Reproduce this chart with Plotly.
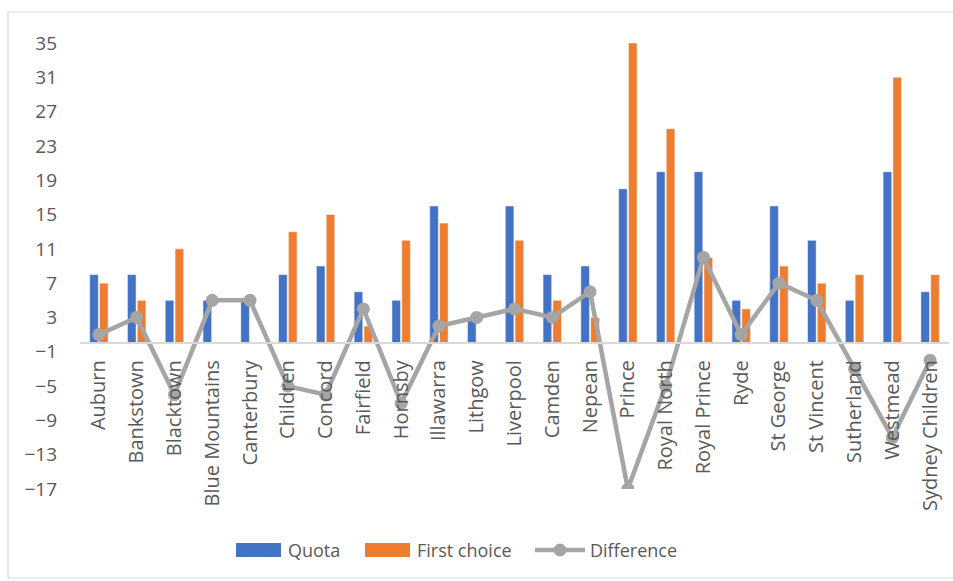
import plotly.graph_objects as go

hospitals = ["Auburn", "Bankstown", "Blacktown", "Blue Mountains", "Canterbury", "Children",
             "Concord", "Fairfield", "Hornsby", "Illawarra", "Lithgow", "Liverpool", "Camden",
             "Nepean", "Prince", "Royal North", "Royal Prince", "Ryde", "St George",
             "St Vincent", "Sutherland", "Westmead", "Sydney Children"]
quota = [8, 8, 5, 5, 5, 8, 9, 6, 5, 16, 3, 16, 8, 9, 18, 20, 20, 5, 16, 12, 5, 20, 6]
first_choice = [7, 5, 11, 0, 0, 13, 15, 2, 12, 14, 0, 12, 5, 3, 35, 25, 10, 4, 9, 7, 8, 31, 8]
difference = [1, 3, -6, 5, 5, -5, -6, 4, -7, 2, 3, 4, 3, 6, -17, -5, 10, 1, 7, 5, -3, -11, -2]
y_ticks = list(range(-17, 36, 4))

BLUE = "#4472C4"
ORANGE = "#ED7D31"
GREY = "#A5A5A5"
TEXT = "#595959"
FONT = "Open Sans"

Y_MIN, Y_MAX = -17, 35

fig = go.Figure()
fig.add_trace(go.Bar(x=hospitals, y=quota, name="Quota",
                     marker=dict(color=BLUE, line=dict(color="white", width=0.5))))
fig.add_trace(go.Bar(x=hospitals, y=first_choice, name="First choice",
                     marker=dict(color=ORANGE, line=dict(color="white", width=0.5))))
fig.add_trace(go.Scatter(x=hospitals, y=difference, name="Difference", mode="lines+markers",
                         line=dict(color=GREY, width=4.5),
                         marker=dict(color=GREY, size=13)))

L, R, T, B = 80, 4, 43, 92
W, H = 953, 581
pw, ph = W - L - R, H - T - B


def px(x):
    return (x - L) / pw


def py(y):
    return (H - B - y) / ph


# chart border
fig.add_shape(type="rect", xref="paper", yref="paper",
              x0=px(8), x1=px(960), y0=py(578), y1=py(12),
              line=dict(color="#D9D9D9", width=1.2), fillcolor="rgba(0,0,0,0)", layer="below")

# legend with wide Excel-style keys
legend_items = [
    ("Quota", "bar", BLUE, 236, 281, 286),
    ("First choice", "bar", ORANGE, 365, 410, 415),
    ("Difference", "line", GREY, 535, 585, 588),
]
LEG_Y = 550
for label, kind, color, k0, k1, tx in legend_items:
    if kind == "bar":
        fig.add_shape(type="rect", xref="paper", yref="paper",
                      x0=px(k0), x1=px(k1), y0=py(LEG_Y + 7), y1=py(LEG_Y - 7),
                      line=dict(width=0), fillcolor=color)
    else:
        fig.add_shape(type="line", xref="paper", yref="paper",
                      x0=px(k0), x1=px(k1), y0=py(LEG_Y), y1=py(LEG_Y),
                      line=dict(color=color, width=4.5))
        cx = (k0 + k1) / 2
        fig.add_shape(type="circle", xref="paper", yref="paper",
                      x0=px(cx - 6.5), x1=px(cx + 6.5), y0=py(LEG_Y + 6.5), y1=py(LEG_Y - 6.5),
                      line=dict(width=0), fillcolor=color)
    fig.add_annotation(text=label, xref="paper", yref="paper", x=px(tx), y=py(LEG_Y),
                       xanchor="left", yanchor="middle", showarrow=False,
                       font=dict(family=FONT, size=18, color=TEXT))

fig.update_layout(
    width=W, height=H,
    margin=dict(l=L, r=R, t=T, b=B),
    paper_bgcolor="white", plot_bgcolor="white",
    barmode="group", bargap=0.48, bargroupgap=0.12,
    font=dict(family=FONT, size=18, color=TEXT),
    showlegend=False,
    xaxis=dict(type="category", range=[-0.5, len(hospitals) - 0.5],
               anchor="free", position=(0 - Y_MIN) / (Y_MAX - Y_MIN),
               showline=True, linecolor="#D9D9D9", linewidth=2,
               showgrid=False, zeroline=False, ticks="",
               tickangle=-90, ticklabelstandoff=8,
               tickfont=dict(family=FONT, size=20, color=TEXT)),
    yaxis=dict(range=[Y_MIN, Y_MAX], tickmode="array", tickvals=y_ticks,
               showgrid=False, zeroline=False, showline=False, ticks="",
               ticklabelstandoff=22,
               tickfont=dict(family=FONT, size=19, color=TEXT)),
)

fig.write_html("out.html")
